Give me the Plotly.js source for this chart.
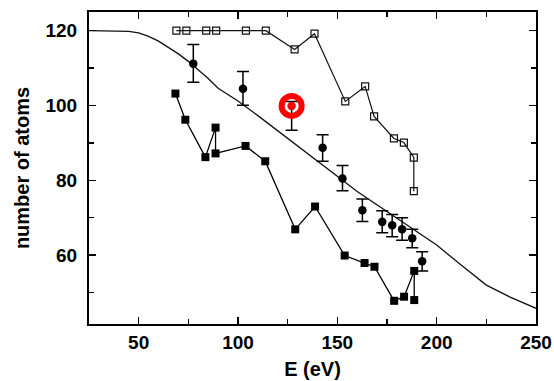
<!DOCTYPE html>
<html>
<head>
<meta charset="utf-8">
<script src="https://cdn.plot.ly/plotly-3.0.1.min.js"></script>
<style>html,body{margin:0;padding:0;background:#fff;}#chart{width:554px;height:381px;}</style>
</head>
<body>
<div id="chart"></div>
<script>
// Theory curve
const curveE = [25, 35, 45, 50, 55, 60, 65, 70, 75, 80, 85, 90, 100, 110, 120, 130, 140, 150, 160, 170, 180, 190, 200, 212, 225, 237, 250];
const curveN = [120, 120, 119.8, 119.4, 118.5, 117.2, 115.6, 113.8, 111.8, 109.6, 107.2, 104.6, 101.2, 97.3, 93.3, 89.3, 85.3, 81.1, 77.0, 73.4, 69.8, 66.3, 62.7, 57.5, 52.0, 48.8, 45.8];

// Open squares
const openE = [69, 74, 84, 89, 104, 114, 128.5, 138.5, 154, 164, 168.5, 178.5, 183.5, 188.5, 188.5];
const openN = [120, 120, 120, 120, 120, 120, 115, 119.2, 101.1, 105.1, 97.1, 91.2, 90.1, 86.1, 77.1];

// Filled squares
const fillE = [68.5, 73.5, 83.6, 88.7, 88.7, 103.8, 113.7, 128.8, 138.8, 153.7, 163.7, 168.7, 178.6, 183.6, 188.7, 188.7];
const fillN = [103.2, 96.2, 86.2, 94.1, 87.2, 89.2, 85.1, 66.9, 73.0, 59.9, 57.9, 56.9, 47.8, 48.9, 55.8, 48.0];

// Measured points with error bars
const circE = [77.5, 102.5, 127, 142.6, 152.6, 162.6, 172.6, 177.6, 182.6, 187.7, 192.7];
const circN = [111.2, 104.5, 99.9, 88.7, 80.5, 72.0, 68.9, 68.0, 66.9, 64.5, 58.4];
const errPlus = [5.1, 4.6, 1.2, 3.5, 3.5, 3.0, 3.0, 2.9, 3.1, 2.4, 2.5];
const errMinus = [5.0, 4.4, 6.5, 3.6, 3.3, 3.0, 2.9, 3.1, 2.9, 2.5, 2.6];
const highlightIndex = 2;

const xTicks = [50, 100, 150, 200, 250];
const yTicks = [60, 80, 100, 120];

const circColors = circE.map((_, i) => i === highlightIndex ? '#ff0000' : '#000000');

const traces = [
  {x: curveE, y: curveN, mode: 'lines', line: {color: '#111', width: 1.3}, hoverinfo: 'skip'},
  {x: openE, y: openN, mode: 'lines+markers', line: {color: '#111', width: 1.2},
   marker: {symbol: 'square-open', size: 7, color: '#111', line: {width: 1.2, color: '#111'}}},
  {x: fillE, y: fillN, mode: 'lines+markers', line: {color: '#000', width: 1.3},
   marker: {symbol: 'square', size: 8, color: '#000'}},
  {x: circE, y: circN, mode: 'markers',
   marker: {symbol: 'circle', size: 8.5, color: circColors},
   error_y: {type: 'data', symmetric: false, array: errPlus, arrayminus: errMinus,
             color: '#000', thickness: 1.5, width: 6}},
  {x: [circE[highlightIndex]], y: [circN[highlightIndex]], mode: 'markers',
   marker: {symbol: 'circle-open', size: 20, color: '#ff0000', line: {width: 6, color: '#ff0000'}}}
];

const FAM = 'Liberation Sans, Arial, sans-serif';
const axisFont = {family: FAM, size: 20, color: '#000'};
const tickFont = {family: FAM, size: 19, color: '#000', weight: 'bold'};

const layout = {
  width: 554, height: 381,
  margin: {l: 89, r: 18, t: 12, b: 57},
  paper_bgcolor: '#fff', plot_bgcolor: '#fff',
  showlegend: false,
  font: {family: FAM, color: '#000'},
  xaxis: {
    range: [25, 250], tickvals: xTicks, ticktext: xTicks.map(String),
    ticks: 'inside', ticklen: 7, tickwidth: 1.5, tickcolor: '#000',
    minor: {tickvals: [75, 125, 175, 225], ticks: 'inside', ticklen: 5, tickwidth: 1.3, tickcolor: '#000'},
    showline: true, linecolor: '#000', linewidth: 2, mirror: 'allticks',
    showgrid: false, zeroline: false,
    tickfont: tickFont,
    title: {text: '<b>E (eV)</b>', font: axisFont, standoff: 10}
  },
  yaxis: {
    range: [41.6, 125], tickvals: yTicks, ticktext: yTicks.map(String),
    ticks: 'inside', ticklen: 7, tickwidth: 1.5, tickcolor: '#000',
    minor: {tickvals: [50, 70, 90, 110], ticks: 'inside', ticklen: 5, tickwidth: 1.3, tickcolor: '#000'},
    showline: true, linecolor: '#000', linewidth: 2, mirror: 'allticks',
    showgrid: false, zeroline: false,
    ticklabelstandoff: 6,
    tickfont: tickFont,
    title: {text: '<b>number of atoms</b>', font: axisFont, standoff: 10}
  }
};

Plotly.newPlot('chart', traces, layout, {displayModeBar: false, staticPlot: true});
</script>
</body>
</html>
